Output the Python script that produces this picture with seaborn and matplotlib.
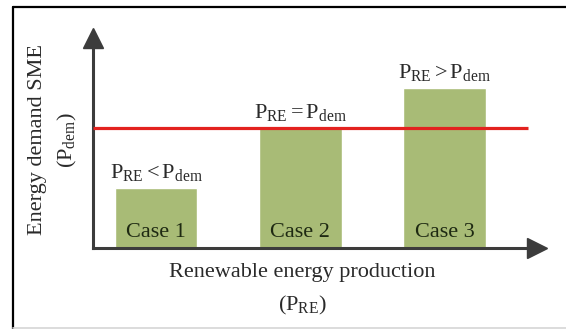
import matplotlib
matplotlib.use("Agg")
import matplotlib.pyplot as plt
from matplotlib.lines import Line2D
import seaborn as sns
import pandas as pd

# Scenario data
cases = ["Case 1", "Case 2", "Case 3"]
production = [0.5, 1.0, 1.333]          # renewable energy production P_RE
demand = 1.0                            # SME energy demand P_dem
relations = [r"$\mathrm{P_{RE} < P_{dem}}$",
             r"$\mathrm{P_{RE} = P_{dem}}$",
             r"$\mathrm{P_{RE} > P_{dem}}$"]
xlabel_lines = ["Renewable energy production", r"($\mathrm{P_{RE}}$)"]
ylabel_lines = ["Energy demand SME", r"($\mathrm{P_{dem}}$)"]

sns.set_theme(style="white")
plt.rcParams["font.family"] = ["Liberation Serif", "DejaVu Serif"]
plt.rcParams["mathtext.fontset"] = "custom"
plt.rcParams["mathtext.rm"] = "Liberation Serif"
plt.rcParams["mathtext.it"] = "Liberation Serif:italic"
plt.rcParams["mathtext.bf"] = "Liberation Serif:bold"

W, H = 566, 329
fig = plt.figure(figsize=(W / 100, H / 100), dpi=100)


def fx(px):
    return px / W


def fy(py):
    return 1 - py / H


# axes box: y-axis at x=93 px, x-axis at y=248 px
left, right, top, bottom = 93, 537, 38, 248
ax = fig.add_axes([fx(left), fy(bottom), fx(right - left), (bottom - top) / H])

df = pd.DataFrame({"case": cases, "production": production})
bar_color = "#a8bb76"
sns.barplot(data=df, x="case", y="production", color=bar_color,
            saturation=1, width=0.575, ax=ax, zorder=2)

ax.set_xlim(-0.4367, 2.641)
ax.set_ylim(0, 1.75)
ax.set_xticks([])
ax.set_yticks([])
ax.set_xlabel("")
ax.set_ylabel("")
ax.set_facecolor("none")

# arrowed axes
axis_color = "#3c3c3c"
for side in ["top", "right"]:
    ax.spines[side].set_visible(False)
for side in ["left", "bottom"]:
    ax.spines[side].set_color(axis_color)
    ax.spines[side].set_linewidth(2.2)
ax.plot(1, 0, ">", color=axis_color, ms=14.5, transform=ax.transAxes,
        clip_on=False, zorder=5)
ax.plot(0, 1, "^", color=axis_color, ms=14.5, transform=ax.transAxes,
        clip_on=False, zorder=5)

# demand level
ax.hlines(demand, -0.4367, 2.579, color="#e3221f", lw=2.3, zorder=4)

text_color = "#2a2a2a"
for i, (val, rel, name) in enumerate(zip(production, relations, cases)):
    ax.annotate(rel, (i, val), xytext=(0, 7.4), textcoords="offset points",
                ha="center", va="baseline", fontsize=16, color=text_color)
    ax.annotate(name, (i, 0), xytext=(0, 8), textcoords="offset points",
                ha="center", va="baseline", fontsize=16, color="#1e2912")

# axis titles
fig.text(fx(302), fy(273), xlabel_lines[0], ha="center", va="center",
         fontsize=16, color=text_color)
fig.text(fx(302), fy(305), xlabel_lines[1], ha="center", va="center",
         fontsize=16, color=text_color)
fig.text(fx(38), fy(140), ylabel_lines[0], ha="center", va="center",
         rotation=90, fontsize=16, color=text_color)
fig.text(fx(67), fy(140), ylabel_lines[1], ha="center", va="center",
         rotation=90, fontsize=16, color=text_color)

# outer frame
fig.add_artist(Line2D([fx(13), fx(13)], [fy(7), fy(329)], color="black", lw=1.6))
fig.add_artist(Line2D([fx(13), fx(566)], [fy(7), fy(7)], color="black", lw=1.6))
fig.add_artist(Line2D([fx(13), fx(566)], [fy(327.5), fy(327.5)], color="#d6d6d6", lw=1.2))

fig.savefig("out.png", dpi=100)
